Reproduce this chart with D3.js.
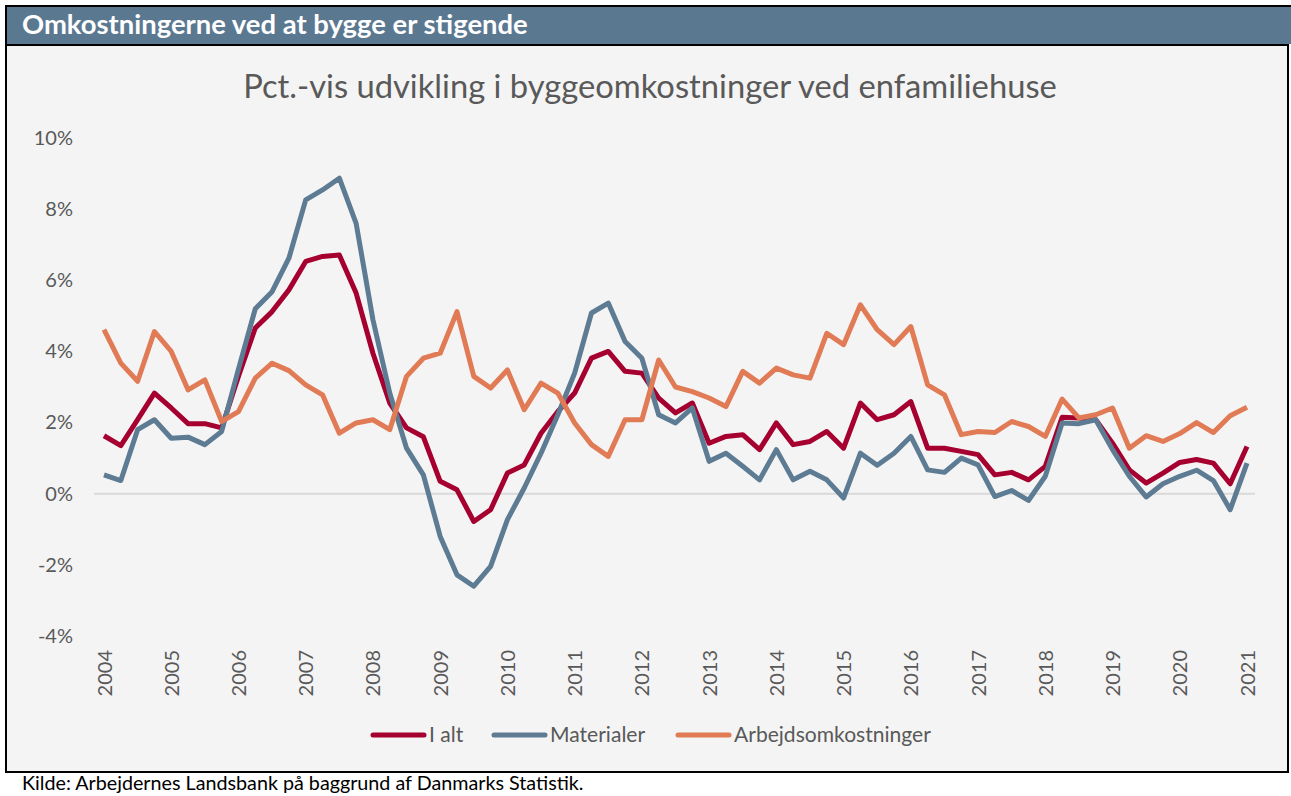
<!DOCTYPE html>
<html>
<head>
<meta charset="utf-8">
<script src="https://cdn.jsdelivr.net/npm/d3@7"></script>
<style>
  body { margin: 0; background: #fff; }
  svg { display: block; font-family: Lato, 'Open Sans', sans-serif; }
</style>
</head>
<body>
<svg width="1291" height="796"></svg>
<script>
// quarterly data, 2004K1 - 2021K1
const years = d3.range(2004, 2022);
const yTicks = [-4, -2, 0, 2, 4, 6, 8, 10];

const iAlt = [1.63, 1.35, 2.08, 2.83, 2.41, 1.97, 1.97, 1.85, 3.3, 4.66, 5.12, 5.73,
  6.53, 6.67, 6.71, 5.64, 3.95, 2.55, 1.85, 1.6, 0.35, 0.11, -0.78, -0.45,
  0.58, 0.81, 1.7, 2.31, 2.83, 3.81, 4.0, 3.44, 3.39, 2.69, 2.27, 2.55,
  1.42, 1.61, 1.66, 1.24, 1.99, 1.38, 1.47, 1.75, 1.28, 2.55, 2.08, 2.22,
  2.59, 1.28, 1.28, 1.19, 1.1, 0.53, 0.6, 0.39, 0.77, 2.15, 2.13, 2.08,
  1.42, 0.67, 0.3, 0.58, 0.88, 0.96, 0.86, 0.28, 1.33];

const materialer = [0.53, 0.37, 1.8, 2.08, 1.56, 1.59, 1.38, 1.75, 3.5, 5.2, 5.68, 6.62,
  8.26, 8.54, 8.87, 7.6, 4.89, 2.83, 1.28, 0.53, -1.2, -2.28, -2.6, -2.04,
  -0.73, 0.16, 1.14, 2.22, 3.39, 5.08, 5.36, 4.28, 3.81, 2.22, 1.99, 2.41,
  0.91, 1.14, 0.77, 0.39, 1.24, 0.39, 0.63, 0.39, -0.12, 1.14, 0.8, 1.14,
  1.61, 0.67, 0.6, 1.0, 0.81, -0.08, 0.09, -0.19, 0.49, 1.99, 1.97, 2.08,
  1.24, 0.49, -0.09, 0.28, 0.49, 0.66, 0.37, -0.45, 0.86];

const arbejdsomk = [4.61, 3.67, 3.16, 4.56, 4.0, 2.92, 3.2, 2.03, 2.31, 3.25, 3.67, 3.46,
  3.06, 2.78, 1.7, 1.99, 2.08, 1.8, 3.3, 3.81, 3.95, 5.12, 3.3, 2.97,
  3.48, 2.36, 3.11, 2.83, 1.99, 1.38, 1.05, 2.08, 2.08, 3.76, 3.0, 2.87,
  2.69, 2.45, 3.44, 3.11, 3.53, 3.34, 3.25, 4.51, 4.19, 5.31, 4.61, 4.19,
  4.7, 3.06, 2.78, 1.66, 1.75, 1.72, 2.03, 1.89, 1.61, 2.66, 2.13, 2.22,
  2.41, 1.28, 1.63, 1.47, 1.69, 2.0, 1.72, 2.19, 2.43];

const seriesNames = ['I alt', 'Materialer', 'Arbejdsomkostninger'];
const seriesData = [iAlt, materialer, arbejdsomk];
const colors = ['#a5002f', '#5d7b92', '#e07b55'];

const svg = d3.select('svg');
const grey = '#595959';

// fit a text element to a target width by scaling its font size
const fit = function (sel, w) {
  const len = sel.node().getComputedTextLength();
  const fs = parseFloat(sel.attr('font-size'));
  sel.attr('font-size', (fs * w) / len);
};

// chart box
svg.append('rect')
  .attr('x', 6).attr('y', 45).attr('width', 1282).attr('height', 727)
  .attr('fill', '#f4f4f4').attr('stroke', '#000').attr('stroke-width', 2);

// header band
svg.append('rect')
  .attr('x', 6).attr('y', 6).attr('width', 1285).attr('height', 38)
  .attr('fill', '#5b7891');
svg.append('path')
  .attr('d', 'M6,44V6H1291')
  .attr('fill', 'none').attr('stroke', '#000').attr('stroke-width', 2);

const header = svg.append('text')
  .attr('x', 22).attr('y', 34)
  .attr('font-size', 24).attr('font-weight', 'bold')
  .attr('fill', '#fff')
  .text('Omkostningerne ved at bygge er stigende');
fit(header, 506);

const title = svg.append('text')
  .attr('x', 650).attr('y', 98)
  .attr('font-size', 28).attr('fill', grey)
  .attr('text-anchor', 'middle')
  .text('Pct.-vis udvikling i byggeomkostninger ved enfamiliehuse');
fit(title, 814);

const x = d3.scaleLinear().domain([0, 68]).range([104, 1247]);
const y = d3.scaleLinear().domain([-4, 10]).range([636, 138]);

// zero line
svg.append('line')
  .attr('x1', 94).attr('x2', 1255)
  .attr('y1', y(0)).attr('y2', y(0))
  .attr('stroke', '#d9d9d9').attr('stroke-width', 2);

// y axis
const yAxis = svg.append('g')
  .attr('transform', 'translate(80,0)')
  .call(d3.axisLeft(y).tickValues(yTicks).tickSize(0).tickPadding(7)
    .tickFormat(d => d + '%'));
yAxis.select('.domain').remove();
yAxis.selectAll('text')
  .attr('font-size', 20).attr('font-family', 'Lato, sans-serif')
  .attr('fill', grey);

// x axis, rotated year labels
const xAxis = svg.append('g')
  .attr('transform', 'translate(0,650)')
  .call(d3.axisBottom(x).tickValues(years.map(d => (d - 2004) * 4)).tickSize(0)
    .tickFormat(d => 2004 + d / 4));
xAxis.select('.domain').remove();
xAxis.selectAll('text')
  .attr('font-size', 20).attr('font-family', 'Lato, sans-serif')
  .attr('fill', grey)
  .attr('x', 0).attr('y', 0).attr('dy', '0.35em')
  .attr('transform', 'rotate(-90)')
  .style('text-anchor', 'end');

// lines
const line = d3.line().x((d, i) => x(i)).y(d => y(d));
seriesData.forEach(function (s, k) {
  svg.append('path')
    .datum(s)
    .attr('d', line)
    .attr('fill', 'none')
    .attr('stroke', colors[k])
    .attr('stroke-width', 5)
    .attr('stroke-linejoin', 'round');
});

// legend
const legendX = [373, 494, 678];
const legendTexts = [];
seriesNames.forEach(function (n, k) {
  const g = svg.append('g').attr('transform', `translate(${legendX[k]},735)`);
  g.append('line')
    .attr('x1', 0).attr('x2', 51)
    .attr('stroke', colors[k]).attr('stroke-width', 5)
    .attr('stroke-linecap', 'round');
  legendTexts.push(g.append('text')
    .attr('x', 56).attr('y', 7)
    .attr('font-size', 20).attr('fill', grey)
    .text(n));
});
fit(legendTexts[2], 197);
legendTexts[0].attr('font-size', legendTexts[2].attr('font-size'));
legendTexts[1].attr('font-size', legendTexts[2].attr('font-size'));

// source
const src = svg.append('text')
  .attr('x', 22).attr('y', 790)
  .attr('font-size', 18).attr('fill', '#000')
  .text('Kilde: Arbejdernes Landsbank på baggrund af Danmarks Statistik.');
fit(src, 562);
</script>
</body>
</html>
